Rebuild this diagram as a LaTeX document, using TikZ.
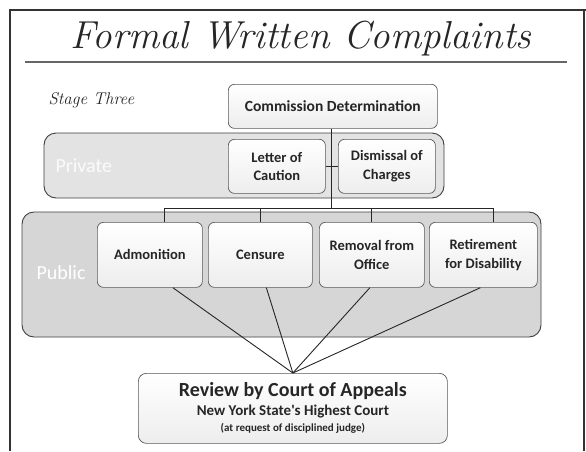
\documentclass[tikz,border=0pt]{standalone}
\usepackage{fontspec}
\newfontfamily\carlitofont{Carlito}
\usetikzlibrary{calc}
\begin{document}
\begin{tikzpicture}[x=1pt,y=-1pt,
  frame/.style={draw=black!80,line width=1.1pt},
  band/.style={draw=black!75,line width=0.9pt,rounded corners=12pt,fill=gray!32},
  pband/.style={draw=black!75,line width=0.9pt,rounded corners=12pt,fill=gray!22},
  box/.style={draw=black!65,line width=0.7pt,rounded corners=6pt,top color=white,bottom color=gray!14,
     align=center,font=\carlitofont\bfseries\fontsize{14.5}{18.5}\selectfont,text=black!85,inner sep=0pt},
  lbl/.style={font=\carlitofont\fontsize{20}{22}\selectfont,text=white},
  conn/.style={draw=black!85,line width=0.9pt}]
\useasboundingbox (0,0) rectangle (586,451);
\fill[white] (0,0) rectangle (586,451);
% frame
\draw[frame] (10,451) -- (10,10) -- (586,10);
\draw[frame] (584,10) -- (584,451);
\node[font=\itshape\fontsize{39}{42}\selectfont,text=black!85] (title) at (301,39) {Formal Written Complaints};
\draw[draw=black!60,line width=1.4pt] (25,62) -- (567,62);
\node[font=\itshape\fontsize{17}{19}\selectfont,text=black!85,anchor=west] (stage) at (45,100) {Stage Three};
% bands
\path[pband] (44,133) rectangle (444,198);
\path[band] (22,212) rectangle (541,337);
\node[lbl,anchor=west,text opacity=0.85] (priv) at (52,166) {Private};
\node[lbl,anchor=west] (pub) at (33,273) {Public};
% boxes
\node[box,anchor=north west,minimum width=209pt,minimum height=44pt,font=\carlitofont\bfseries\fontsize{15.5}{18}\selectfont] (cd) at (228,84) {Commission Determination};
\node[box,anchor=north west,minimum width=97pt,minimum height=54pt] (lc) at (228,139) {Letter of\\Caution};
\node[box,anchor=north west,minimum width=97pt,minimum height=54pt] (dc) at (338,139) {Dismissal of\\Charges};
\node[box,anchor=north west,minimum width=105pt,minimum height=65pt] (adm) at (97,222) {Admonition};
\node[box,anchor=north west,minimum width=104pt,minimum height=65pt] (cen) at (208,222) {Censure};
\node[box,anchor=north west,minimum width=105pt,minimum height=65pt] (rem) at (319,222) {Removal from\\Office};
\node[box,anchor=north west,minimum width=108pt,minimum height=65pt] (ret) at (429,222) {Retirement\\for Disability};
\node[box,anchor=north west,minimum width=309pt,minimum height=70pt,rounded corners=8pt,
      font=\carlitofont\bfseries\fontsize{14.5}{17}\selectfont] (rev) at (138,373)
  {{\fontsize{20}{22}\selectfont Review by Court of Appeals}\\[2pt]
   {\fontsize{15}{16}\selectfont New York State's Highest Court}\\[-1pt]
   {\fontsize{11}{12}\selectfont (at request of disciplined judge)}};
% connectors
\coordinate (bus) at (331,208);
\coordinate (d1) at (164,222);
\coordinate (d2) at (260,222);
\coordinate (d3) at (371,222);
\coordinate (d4) at (493,222);
\draw[conn] (cd.south -| bus) -- (bus);
\draw[conn] (d1) -- (d1 |- bus) -- (d4 |- bus) -- (d4);
\draw[conn] (d2) -- (d2 |- bus);
\draw[conn] (d3) -- (d3 |- bus);
\draw[conn] (lc.east) -- (dc.west);
\draw[conn] ($(adm.south)+(23,0)$) -- (rev.north);
\draw[conn] ($(cen.south)+(6,0)$) -- (rev.north);
\draw[conn] ($(rem.south)+(-2,0)$) -- (rev.north);
\draw[conn] ($(ret.south)+(-3,0)$) -- (rev.north);
\end{tikzpicture}
\end{document}
